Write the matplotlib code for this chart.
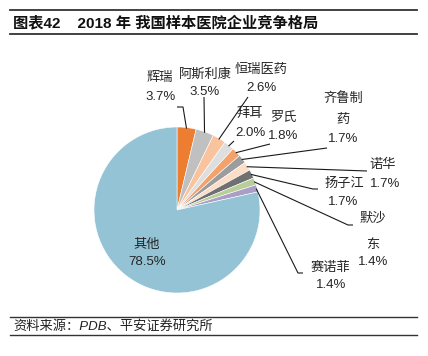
import numpy as np
import matplotlib.pyplot as plt
from matplotlib.lines import Line2D

plt.rcParams['font.family'] = ['Liberation Sans', 'Noto Sans CJK SC', 'DejaVu Sans']

companies = ['辉瑞', '阿斯利康', '恒瑞医药', '拜耳', '罗氏', '齐鲁制药',
             '诺华', '扬子江', '默沙东', '赛诺菲', '其他']
shares = [3.7, 3.5, 2.6, 2.0, 1.8, 1.7, 1.7, 1.7, 1.4, 1.4, 78.5]
colors = ['#ED7D31', '#C0C0C0', '#F8C39D', '#DEDEDE', '#F4A26C', '#9C9C9C',
          '#FBDDC8', '#707070', '#B7CE9A', '#AA9DC6', '#93C3D5']

W, H = 428, 356
fig = plt.figure(figsize=(W / 100, H / 100), dpi=100)
ax = fig.add_axes([0, 0, 1, 1])

def Y(y):
    return H - y

cx, cy, r = 177, 210, 83
wedges, _ = ax.pie(shares, colors=colors, startangle=90, counterclock=False,
                   center=(cx, Y(cy)), radius=r,
                   wedgeprops=dict(linewidth=0.4, edgecolor='white'))
ax.set_xlim(0, W)
ax.set_ylim(0, H)
ax.set_aspect('auto')
ax.axis('off')

# mid angle of each wedge -> point on the rim
cum = np.cumsum([0] + shares)
mid = 90 - (cum[:-1] + np.array(shares) / 2) * 3.6

def rim(i, rr=r):
    a = np.radians(mid[i])
    return cx + rr * np.cos(a), cy - rr * np.sin(a)

# leader line bends (pixel positions) per labelled slice
leaders = {
    0: [(183, 107), (177, 107)],
    1: [(204, 97)],
    2: [(248, 97)],
    3: [(234, 141)],
    4: [(270, 144)],
    5: [(327, 148)],
    6: [(367, 171)],
    7: [(313, 189), (318, 189)],
    8: [(348, 225), (353, 225)],
    9: [(298, 273), (303, 273)],
}
for i, pts in leaders.items():
    path = [rim(i, r - 1)] + pts
    xs = [p[0] for p in path]
    ys = [Y(p[1]) for p in path]
    ax.plot(xs, ys, color='#1a1a1a', lw=0.8, solid_capstyle='butt')

fs = 9.5
tc = '#262626'
texts = [
    ('辉瑞', 160, 78), ('3.7%', 161, 97),
    ('阿斯利康', 205, 75), ('3.5%', 205, 92),
    ('恒瑞医药', 261, 70), ('2.6%', 261, 88),
    ('拜耳', 250, 114), ('2.0%', 250, 133),
    ('罗氏', 283, 118), ('1.8%', 283, 136),
    ('齐鲁制', 343, 99), ('药', 343, 120), ('1.7%', 343, 139),
    ('诺华', 383, 165), ('1.7%', 385, 184),
    ('扬子江', 344, 184), ('1.7%', 343, 202),
    ('默沙', 373, 219), ('东', 373, 245), ('1.4%', 373, 262),
    ('赛诺菲', 330, 268), ('1.4%', 331, 285),
    ('其他', 147, 245), ('78.5%', 147, 262),
]
for s, x, y in texts:
    ax.text(x, Y(y), s, ha='center', va='center', fontsize=fs, color=tc)

# header / footer rules and text
for y, lw in [(10, 1.3), (34, 1.3), (317, 1.0), (335, 1.0)]:
    ax.add_line(Line2D([10, 417], [Y(y), Y(y)], color='#333333', lw=lw))
ax.text(13, Y(23), '图表42    2018 年 我国样本医院企业竞争格局', ha='left', va='center',
        fontsize=11, fontweight='bold', color='#111111')
ax.text(13, Y(326), '资料来源：PDB、平安证券研究所', ha='left', va='center',
        fontsize=9.5, style='italic', color='#222222')

fig.savefig('out.png', dpi=100)
